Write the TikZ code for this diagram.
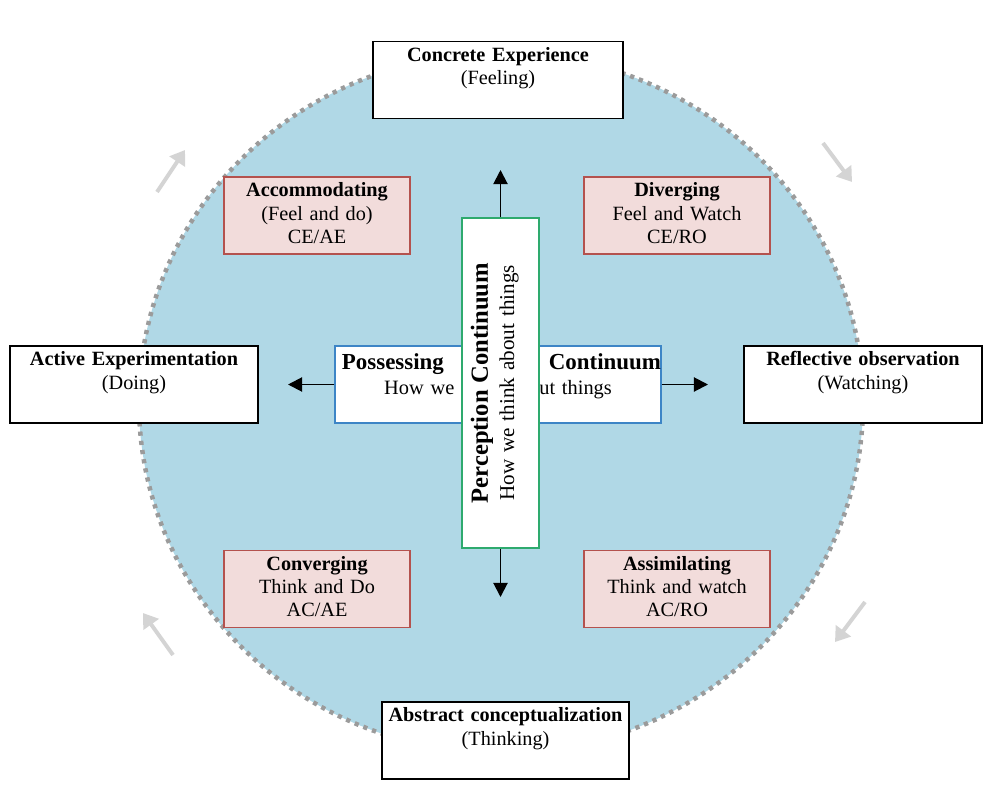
\documentclass[tikz,border=0pt]{standalone}
\usepackage{fontspec}
\setmainfont{Liberation Serif}
\usetikzlibrary{arrows.meta}
\definecolor{circblue}{RGB}{176,216,230}
\definecolor{rimgray}{RGB}{155,155,155}
\definecolor{stylefill}{RGB}{242,220,219}
\definecolor{styleline}{RGB}{180,82,78}
\definecolor{possblue}{RGB}{61,133,198}
\definecolor{percgreen}{RGB}{46,170,110}
\definecolor{cyclegray}{RGB}{212,212,212}

\begin{document}
\begin{tikzpicture}[x=0.025cm,y=-0.025cm,
	mode/.style={draw=black,fill=white,line width=0.9pt,inner sep=0pt,align=center,text height=14.2pt,text depth=40.6pt,font=\fontsize{14.4}{16.4}\selectfont},
	lstyle/.style={mode,draw=styleline,fill=stylefill,text width=4.65cm},
	axis/.style={draw=black,line width=1.4pt,-{Triangle[length=10pt,width=10pt]}},
	turnarrow/.style={draw=cyclegray,line width=2.8pt,-{Triangle[length=10pt,width=13pt]}}]

\useasboundingbox(0,0)rectangle(984,794);
\fill[circblue](501,403)ellipse[x radius=362,y radius=350];
\draw[rimgray,line width=3.2pt,dash pattern=on 3pt off 3.6pt](501,403)ellipse[x radius=362,y radius=350];

\node[mode,text width=6.25cm](ce) at (498,80){\textbf{Concrete Experience}\\(Feeling)};
\node[mode,text width=6.2cm](ae) at (134,384.5){\textbf{Active Experimentation}\\(Doing)};
\node[mode,text width=5.95cm](ro) at (863,384.5){\textbf{Reflective observation}\\(Watching)};
\node[mode,text width=6.175cm](ac) at (505.5,740.5){\textbf{Abstract conceptualization}\\(Thinking)};

\node[lstyle](acc) at (317,215.5){\textbf{Accommodating}\\(Feel and do)\\CE/AE};
\node[lstyle](div) at (677,215.5){\textbf{Diverging}\\Feel and Watch\\CE/RO};
\node[lstyle](conv) at (317,589){\textbf{Converging}\\Think and Do\\AC/AE};
\node[lstyle](assim) at (677,589){\textbf{Assimilating}\\Think and watch\\AC/RO};

\node[mode,draw=possblue,text width=8.15cm,text height=16.8pt,text depth=38pt,font=\fontsize{14.5}{17.4}\selectfont](poss) at (498,384.5)
	{\makebox[8.15cm]{\hspace{5pt}\fontsize{16.3}{17.4}\selectfont\textbf{Possessing}\hfill\textbf{Continuum}}\\How we think about things};

\coordinate(west) at (288,384.5);
\coordinate(east) at (708,384.5);
\coordinate(north) at (500.5,170);
\coordinate(south) at (500.5,597);
\draw[axis](poss.west)--(west);
\draw[axis](poss.east)--(east);

\node[mode,draw=percgreen,rotate=90,text width=8.25cm,text height=18.5pt,text depth=36.3pt,font=\fontsize{15}{18.5}\selectfont](perc) at (500.5,383)
	{{\fontsize{17.5}{18.5}\selectfont\textbf{Perception Continuum}}\\How we think about things};

\draw[axis](perc.east)--(north);
\draw[axis](perc.west)--(south);

\coordinate(tl0) at (157,192);
\coordinate(tl1) at (185,150);
\coordinate(tr0) at (823,143);
\coordinate(tr1) at (852,182);
\coordinate(br0) at (865,602);
\coordinate(br1) at (835,642);
\coordinate(bl0) at (173,655);
\coordinate(bl1) at (143,613);
\draw[turnarrow](tl0)--(tl1);
\draw[turnarrow](tr0)--(tr1);
\draw[turnarrow](br0)--(br1);
\draw[turnarrow](bl0)--(bl1);

\end{tikzpicture}
\end{document}
